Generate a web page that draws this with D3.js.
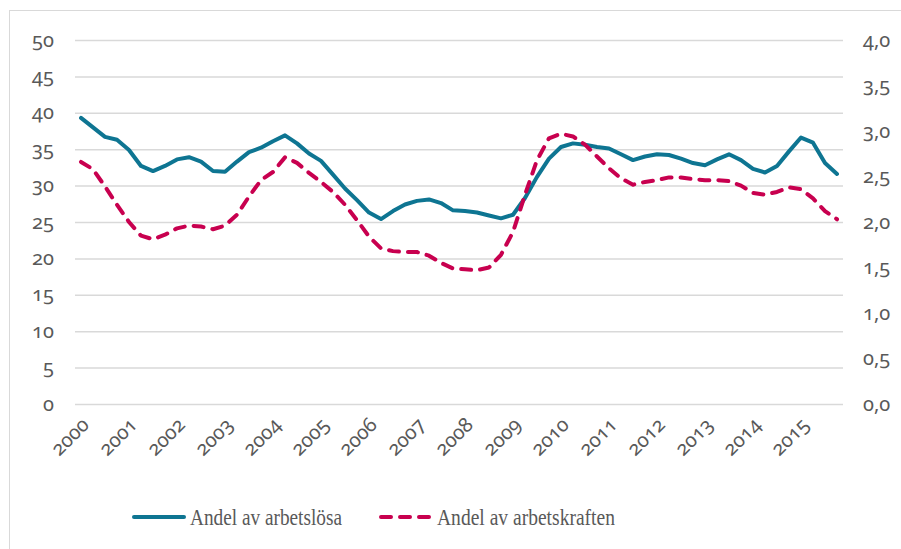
<!DOCTYPE html>
<html>
<head>
<meta charset="utf-8">
<script src="https://cdn.jsdelivr.net/npm/d3@7"></script>
<style>
  html, body { margin: 0; padding: 0; background: #fff; }
  svg { display: block; }
  .grid line { stroke: #d9d9d9; stroke-width: 1.5; }
</style>
</head>
<body>
<div id="chart"></div>
<script>
// Årtal (etiketter på x-axeln), kvartalsdata
const years = [2000, 2001, 2002, 2003, 2004, 2005, 2006, 2007, 2008, 2009, 2010, 2011, 2012, 2013, 2014, 2015];
const quarters = [];
years.forEach(y => [1, 2, 3, 4].forEach(q => quarters.push(y + "K" + q)));

// Andel av arbetslösa (vänster axel, %)
const andelArbetslosa = [
  39.3, 38.0, 36.7, 36.3, 34.9, 32.7, 32.0, 32.7, 33.6, 33.9, 33.3, 32.0, 31.9, 33.3, 34.6, 35.2,
  36.1, 36.9, 35.8, 34.4, 33.4, 31.5, 29.6, 28.0, 26.3, 25.4, 26.5, 27.4, 27.9, 28.1, 27.6, 26.6,
  26.5, 26.3, 25.9, 25.5, 26.0, 28.3, 31.2, 33.7, 35.3, 35.8, 35.6, 35.3, 35.1, 34.3, 33.5, 34.0,
  34.3, 34.2, 33.7, 33.1, 32.8, 33.6, 34.3, 33.5, 32.3, 31.8, 32.7, 34.7, 36.6, 35.9, 33.1, 31.6
];

// Andel av arbetskraften (höger axel, %)
const andelArbetskraften = [
  2.66, 2.58, 2.39, 2.19, 2.00, 1.85, 1.81, 1.86, 1.93, 1.96, 1.95, 1.92, 1.96, 2.08, 2.28, 2.46,
  2.55, 2.71, 2.65, 2.54, 2.44, 2.33, 2.19, 2.02, 1.84, 1.71, 1.68, 1.67, 1.67, 1.63, 1.55, 1.49,
  1.48, 1.47, 1.50, 1.64, 1.89, 2.30, 2.68, 2.92, 2.97, 2.94, 2.85, 2.72, 2.59, 2.48, 2.41, 2.44,
  2.46, 2.49, 2.49, 2.47, 2.46, 2.46, 2.45, 2.40, 2.32, 2.30, 2.33, 2.38, 2.36, 2.26, 2.12, 2.03
];

const seriesNames = ["Andel av arbetslösa", "Andel av arbetskraften"];
const leftTicks = [0, 5, 10, 15, 20, 25, 30, 35, 40, 45, 50];
const rightTicks = [0, 0.5, 1, 1.5, 2, 2.5, 3, 3.5, 4];

const W = 901, H = 549;
const colBlue = "#0e7592";
const colRed = "#c8004f";
const textCol = "#595959";
const tickFont = "Noto Sans";
const legendFont = "Liberation Serif";

const svg = d3.select("#chart").append("svg")
  .attr("width", W)
  .attr("height", H);

// ram runt diagrammet
svg.append("rect")
  .attr("x", 9.5).attr("y", 10.5)
  .attr("width", W).attr("height", H)
  .attr("fill", "none")
  .attr("stroke", "#d9d9d9")
  .attr("stroke-width", 1);

const plot = {left: 75, right: 843, top: 40, bottom: 404};

const x = d3.scaleBand()
  .domain(quarters)
  .range([plot.left, plot.right]);

const yL = d3.scaleLinear().domain([0, 50]).range([plot.bottom, plot.top]);
const yR = d3.scaleLinear().domain([0, 4]).range([plot.bottom, plot.top]);

// rutnät
const grid = svg.append("g")
  .attr("class", "grid")
  .attr("transform", "translate(" + plot.left + ",0)")
  .call(d3.axisLeft(yL).tickValues(leftTicks).tickSize(-(plot.right - plot.left)).tickFormat(""));
grid.select(".domain").remove();

function styleTicks(g) {
  g.attr("font-family", tickFont).attr("font-size", 20)
    .style("font-variant-numeric", "oldstyle-nums");
  g.selectAll("text").attr("fill", textCol);
  g.select(".domain").remove();
}

// vänster axel
const axL = svg.append("g")
  .attr("transform", "translate(54,0)")
  .call(d3.axisLeft(yL).tickValues(leftTicks).tickSize(0).tickPadding(0).tickFormat(d => d))
  .call(styleTicks);
axL.selectAll("text").attr("dy", "0.3em");

// höger axel
const fmtComma = d => d3.format(".1f")(d).replace(".", ",");
const axR = svg.append("g")
  .attr("transform", "translate(863,0)")
  .call(d3.axisRight(yR).tickValues(rightTicks).tickSize(0).tickPadding(0).tickFormat(fmtComma))
  .call(styleTicks);
axR.selectAll("text").attr("dy", "0.3em");

// x-axel med årtal (första kvartalet varje år)
const axX = svg.append("g")
  .attr("transform", "translate(0," + plot.bottom + ")")
  .call(d3.axisBottom(x)
    .tickValues(quarters.filter(q => q.endsWith("K1")))
    .tickSize(0)
    .tickFormat(q => q.slice(0, 4)))
  .call(styleTicks);
axX.selectAll("text")
  .attr("text-anchor", "end")
  .attr("dy", "0")
  .attr("transform", "translate(7,20) rotate(-45)");

const cx = q => x(q) + x.bandwidth() / 2;

const lineL = d3.line()
  .x((d, i) => cx(quarters[i]))
  .y(d => yL(d));

const lineR = d3.line()
  .x((d, i) => cx(quarters[i]))
  .y(d => yR(d));

svg.append("path")
  .datum(andelArbetslosa)
  .attr("d", lineL)
  .attr("fill", "none")
  .attr("stroke", colBlue)
  .attr("stroke-width", 4)
  .attr("stroke-linejoin", "round")
  .attr("stroke-linecap", "round");

svg.append("path")
  .datum(andelArbetskraften)
  .attr("d", lineR)
  .attr("fill", "none")
  .attr("stroke", colRed)
  .attr("stroke-width", 4)
  .attr("stroke-dasharray", "10,9")
  .attr("stroke-linejoin", "round")
  .attr("stroke-linecap", "round");

// förklaring
const legend = svg.append("g")
  .attr("font-family", legendFont)
  .attr("font-size", 23);
const legendItems = [
  {name: seriesNames[0], color: colBlue, dash: null, x: 134, textW: 152},
  {name: seriesNames[1], color: colRed, dash: "10,9", x: 381, textW: 178}
];
legendItems.forEach(it => {
  legend.append("line")
    .attr("x1", it.x).attr("x2", it.x + 50)
    .attr("y1", 517).attr("y2", 517)
    .attr("stroke", it.color)
    .attr("stroke-width", 4)
    .attr("stroke-linecap", "round")
    .attr("stroke-dasharray", it.dash);
  legend.append("text")
    .attr("x", it.x + 56)
    .attr("y", 525)
    .attr("fill", textCol)
    .attr("textLength", it.textW)
    .attr("lengthAdjust", "spacingAndGlyphs")
    .text(it.name);
});
</script>
</body>
</html>
